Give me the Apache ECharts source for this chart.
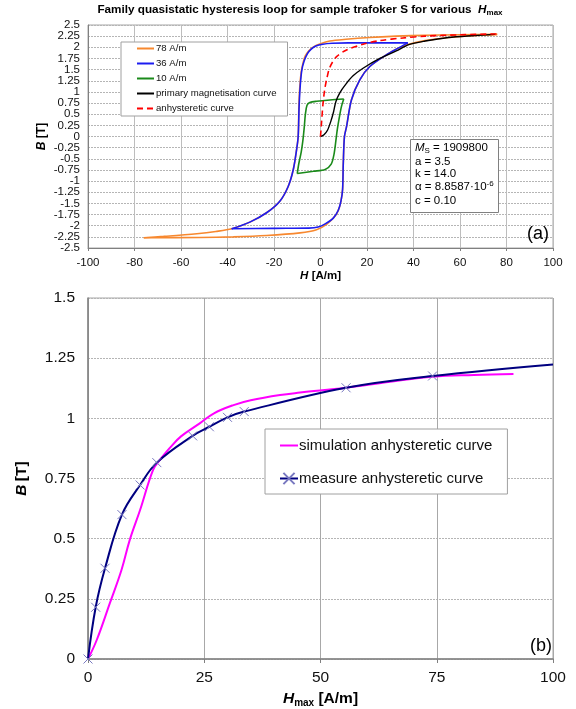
<!DOCTYPE html>
<html><head><meta charset="utf-8">
<script src="https://cdn.jsdelivr.net/npm/echarts@6/dist/echarts.min.js"></script>
<style>html,body{margin:0;padding:0;background:#fff}#c{width:576px;height:709px}</style>
</head><body><div id="c"></div>
<script>
const FONT = '"Liberation Sans", Arial, sans-serif';

// ---------- panel (a): hysteresis loops, [H (A/m), B (T)] ----------
const loop78Desc = [[76,2.29],[60,2.28],[45,2.27],[32.5,2.25],[21,2.22],[11,2.18],[4,2.14],[0,2.08],[-3,2.01],[-5,1.92],[-6.6,1.80],[-7.5,1.65],[-8.3,1.45],[-8.9,1.12],[-9.3,0.67],[-9.6,0],[-10.3,-0.30],[-11.7,-0.74],[-13.9,-1.12],[-17.5,-1.45],[-23.2,-1.71],[-30.4,-1.92],[-38.2,-2.07],[-45,-2.13],[-53.2,-2.18],[-67.5,-2.24],[-76,-2.27]];
const loop78Asc = [[-76,-2.27],[-52,-2.265],[-37.5,-2.25],[-23.2,-2.22],[-8.8,-2.16],[-1.7,-2.09],[2.6,-1.97],[6.2,-1.79],[7.8,-1.64],[8.8,-1.45],[9.5,-1.19],[9.8,-0.6],[10.3,0],[11.2,0.22],[13.3,0.82],[16.9,1.27],[21.2,1.57],[28.3,1.83],[33,1.97],[38,2.07],[45,2.15],[55,2.22],[65,2.26],[76,2.29]];
const loop36Desc = [[37.6,2.10],[25,2.10],[12,2.10],[5,2.09],[1,2.07],[-2,2.03],[-4,1.96],[-5.6,1.86],[-7,1.70],[-8,1.50],[-8.7,1.15],[-9.2,0.67],[-9.6,0],[-10.3,-0.30],[-11.7,-0.74],[-13.9,-1.12],[-17.5,-1.45],[-23.2,-1.71],[-30.4,-1.92],[-38.2,-2.07]];
const loop36Asc = [[-38.2,-2.07],[-20,-2.06],[-5,-2.055],[-1,-2.03],[2,-1.96],[5.5,-1.83],[7.6,-1.66],[8.8,-1.45],[9.5,-1.19],[9.8,-0.6],[10.3,0],[11.2,0.22],[13.3,0.82],[16.9,1.27],[21.2,1.57],[28.3,1.83],[33,1.97],[37.6,2.10]];
const loop10Desc = [[10,0.84],[4,0.82],[-1.7,0.79],[-4.6,0.76],[-5.8,0.70],[-6.5,0.5],[-7,0.2],[-7.6,-0.1],[-8.3,-0.35],[-9.3,-0.6],[-10,-0.83]];
const loop10Asc = [[-10,-0.83],[-3,-0.78],[2,-0.74],[4.6,-0.62],[5.8,-0.4],[6.6,-0.1],[7.2,0.15],[8,0.4],[9,0.67],[10,0.84]];
const primaryCurve = [[0,0],[1.5,0.04],[3,0.14],[4.5,0.35],[5.6,0.55],[6.6,0.78],[8.3,0.98],[11,1.18],[14,1.36],[18.3,1.53],[25.5,1.75],[32.6,1.92],[38,2.06],[45,2.14],[55,2.22],[65,2.26],[75,2.29]];
const anhystCurve = [[0,0],[0.5,0.35],[1.1,0.75],[1.8,1.05],[2.6,1.27],[4,1.55],[6.9,1.79],[11.2,1.94],[18.3,2.07],[25.5,2.15],[35.5,2.21],[45,2.25],[60,2.28],[76,2.30]];
const namesA = ['78 A/m','36 A/m','10 A/m','primary magnetisation curve','anhysteretic curve'];

// ---------- panel (b): anhysteretic curves ----------
const simH  = [0,1.9,4.7,7.2,9,11.2,14,15.5,17.5,20,24.1,27,31.3,35,41.3,45.6,55.5,65,74.1,83,91.5];
const simB  = [0,0.08,0.232,0.37,0.496,0.619,0.786,0.828,0.875,0.925,0.98,1.02,1.055,1.075,1.097,1.107,1.127,1.152,1.173,1.18,1.184];
const measH = [0,1.65,3.66,7.3,11.2,14.8,22.5,26.1,30.0,33.6,55.5,74.1,100];
const measB = [0,0.215,0.377,0.60,0.723,0.816,0.927,0.965,1.004,1.028,1.127,1.176,1.224];
const namesB = ['simulation anhysteretic curve','measure anhysteretic curve'];

const params = ['M_S = 1909800','a = 3.5','k = 14.0','α = 8.8587·10^-6','c = 0.10'];

const chart = echarts.init(document.getElementById('c'), null, {renderer:'canvas'});

function lineSeries(name, data, color, width, opts) {
  return Object.assign({
    type:'line', name, data, xAxisIndex:0, yAxisIndex:0,
    symbol:'none', smooth:0.3, clip:true, animation:false,
    lineStyle:{color, width}, itemStyle:{color}, emphasis:{disabled:true}
  }, opts || {});
}

const measData = measH.map((h,i)=> i===measH.length-1 ? {value:[h,measB[i]], symbol:'none'} : [h,measB[i]]);
const simData = simH.map((h,i)=>[h,simB[i]]);

const xMark = 'path://M0,0L10,10M10,0L0,10';
// top-panel B labels are split over two co-located axes so that none of them collide
const isHalf = v => Math.abs(Math.round(v*2) - v*2) < 1e-6;

const option = {
  backgroundColor:'#fff',
  animation:false,
  textStyle:{fontFamily:FONT},
  title:{
    text:'{t|Family quasistatic hysteresis loop for sample trafoker S for various  }{ti|H}{ts|max}',
    left:300, top:3, textAlign:'center', padding:0,
    textStyle:{rich:{
      t:{fontFamily:FONT,fontWeight:'bold',fontSize:11.7,color:'#000'},
      ti:{fontFamily:FONT,fontWeight:'bold',fontStyle:'italic',fontSize:11.7,color:'#000'},
      ts:{fontFamily:FONT,fontWeight:'bold',fontSize:8,color:'#000',padding:[6,0,0,0]}
    }}
  },
  grid:[
    {left:88, top:25, width:465, height:223, show:true, borderColor:'#a6a6a6', borderWidth:1, backgroundColor:'transparent', outerBoundsMode:'none', containLabel:false},
    {left:88, top:298, width:465, height:361, show:true, borderColor:'#a6a6a6', borderWidth:1, backgroundColor:'transparent', outerBoundsMode:'none', containLabel:false}
  ],
  legend:[
    {
      data:namesA, orient:'vertical', left:121, top:42,
      itemWidth:17, itemHeight:11, itemGap:4, padding:[1,11,2,15],
      itemStyle:{opacity:0},
      backgroundColor:'#fff', borderColor:'#a0a0a0', borderWidth:1, borderRadius:0,
      textStyle:{fontFamily:FONT,fontSize:9.6,lineHeight:11,color:'#111',padding:[0,0,0,-3]},
      selectedMode:false
    },
    {
      data:[{name:namesB[0], itemStyle:{opacity:0}}, namesB[1]], orient:'vertical', left:265, top:429,
      itemWidth:18, itemHeight:14, itemGap:18, padding:[9,15,8,14],
      backgroundColor:'#fff', borderColor:'#a0a0a0', borderWidth:1, borderRadius:0,
      textStyle:{fontFamily:FONT,fontSize:15,color:'#111',padding:[0,0,0,-4]},
      selectedMode:false
    }
  ],
  xAxis:[
    {
      gridIndex:0, type:'value', min:-100, max:100, interval:20,
      name:'{bi|H} {b|[A/m]}', nameLocation:'middle', nameGap:18,
      nameTextStyle:{rich:{bi:{fontFamily:FONT,fontWeight:'bold',fontStyle:'italic',fontSize:11.5,color:'#000'},b:{fontFamily:FONT,fontWeight:'bold',fontSize:11.5,color:'#000'}}},
      axisLine:{onZero:false, lineStyle:{color:'#808080',width:1}},
      axisTick:{show:true,length:3,lineStyle:{color:'#808080'}},
      axisLabel:{fontFamily:FONT,fontSize:11.5,color:'#111',margin:9},
      splitLine:{show:true,lineStyle:{color:'#bdbdbd',width:1,type:'solid'}}
    },
    {
      gridIndex:1, type:'value', min:0, max:100, interval:25,
      name:'{bi|H}{sub|max}{b| [A/m]}', nameLocation:'middle', nameGap:22,
      nameTextStyle:{rich:{
        bi:{fontFamily:FONT,fontWeight:'bold',fontStyle:'italic',fontSize:15.5,color:'#000'},
        sub:{fontFamily:FONT,fontWeight:'bold',fontSize:10,color:'#000',padding:[8,0,0,0]},
        b:{fontFamily:FONT,fontWeight:'bold',fontSize:15.5,color:'#000'}}},
      axisLine:{onZero:false, lineStyle:{color:'#808080',width:1.5}},
      axisTick:{show:true,length:4,lineStyle:{color:'#808080'}},
      axisLabel:{fontFamily:FONT,fontSize:15.5,color:'#111',margin:11},
      splitLine:{show:true,lineStyle:{color:'#a8a8a8',width:1,type:'solid'}}
    }
  ],
  yAxis:[
    {
      gridIndex:0, type:'value', min:-2.5, max:2.5, interval:0.25, position:'left',
      name:'{bi|B} {b|[T]}', nameLocation:'middle', nameGap:40,
      nameTextStyle:{rich:{bi:{fontFamily:FONT,fontWeight:'bold',fontStyle:'italic',fontSize:12,color:'#000'},b:{fontFamily:FONT,fontWeight:'bold',fontSize:12,color:'#000'}}},
      axisLine:{show:true,onZero:false, lineStyle:{color:'#808080',width:1}},
      axisTick:{show:false},
      axisLabel:{fontFamily:FONT,fontSize:11.5,color:'#111',margin:8,showMinLabel:true,showMaxLabel:true,
        formatter:v=> isHalf(v) ? String(v) : ''},
      splitLine:{show:true,lineStyle:{color:'#b5b5b5',width:1,type:[2,1]}}
    },
    {
      gridIndex:1, type:'value', min:0, max:1.5, interval:0.25,
      name:'{bi|B} {b|[T]}', nameLocation:'middle', nameGap:58,
      nameTextStyle:{rich:{bi:{fontFamily:FONT,fontWeight:'bold',fontStyle:'italic',fontSize:15.5,color:'#000'},b:{fontFamily:FONT,fontWeight:'bold',fontSize:15.5,color:'#000'}}},
      axisLine:{show:true,onZero:false, lineStyle:{color:'#808080',width:1.5}},
      axisTick:{show:false},
      axisLabel:{fontFamily:FONT,fontSize:15.5,color:'#111',margin:13,showMinLabel:true,showMaxLabel:true},
      splitLine:{show:true,lineStyle:{color:'#b5b5b5',width:1,type:[2,1]}}
    },
    {
      gridIndex:0, type:'value', min:-2.5, max:2.5, interval:0.25, position:'left', offset:0,
      axisLine:{show:false,onZero:false}, axisTick:{show:false}, splitLine:{show:false},
      axisLabel:{fontFamily:FONT,fontSize:11.5,color:'#111',margin:8,showMinLabel:false,showMaxLabel:false,
        formatter:v=> isHalf(v) ? '' : String(v)}
    }
  ],
  series:[
    lineSeries(namesA[0], loop78Desc, '#f7882f', 1.6),
    lineSeries(namesA[0], loop78Asc, '#f7882f', 1.6),
    lineSeries(namesA[1], loop36Desc, '#1c1cf0', 1.6),
    lineSeries(namesA[1], loop36Asc, '#1c1cf0', 1.6),
    lineSeries(namesA[2], loop10Desc, '#1a8a1a', 1.6),
    lineSeries(namesA[2], loop10Asc, '#1a8a1a', 1.6),
    lineSeries(namesA[3], primaryCurve, '#000000', 1.4),
    lineSeries(namesA[4], anhystCurve, '#ff0000', 1.6, {lineStyle:{color:'#ff0000',width:1.6,type:[6,4]}}),
    lineSeries(namesB[0], simData, '#ff00ff', 2, {xAxisIndex:1,yAxisIndex:1,smooth:0.4}),
    lineSeries(namesB[1], measData, '#000080', 2, {
      xAxisIndex:1, yAxisIndex:1, smooth:0.4,
      symbol:xMark, symbolSize:9, showSymbol:true,
      itemStyle:{color:'#7878c0',borderColor:'#7878c0',borderWidth:1}
    })
  ],
  graphic:[
    {type:'rect', left:410, top:139, shape:{width:88,height:73}, style:{fill:'#fff',stroke:'#808080',lineWidth:1}, z:100},
    {type:'text', left:415, top:142, z:101, style:{
      text:'{i|M}{s|S}{n| = 1909800}', rich:{
        i:{fontFamily:FONT,fontStyle:'italic',fontSize:11.5,fill:'#000'},
        s:{fontFamily:FONT,fontSize:8,fill:'#000',padding:[5,0,0,0]},
        n:{fontFamily:FONT,fontSize:11.5,fill:'#000'}}}},
    {type:'text', left:415, top:156, z:101, style:{text:params[1],font:'11.5px '+FONT,fill:'#000'}},
    {type:'text', left:415, top:168, z:101, style:{text:params[2],font:'11.5px '+FONT,fill:'#000'}},
    {type:'text', left:415, top:180, z:101, style:{
      text:'{n|α = 8.8587·10}{p|-6}', rich:{
        n:{fontFamily:FONT,fontSize:11.5,fill:'#000'},
        p:{fontFamily:FONT,fontSize:8,fill:'#000',padding:[0,0,6,0]}}}},
    {type:'text', left:415, top:195, z:101, style:{text:params[4],font:'11.5px '+FONT,fill:'#000'}},
    {type:'text', right:27, top:225, z:101, style:{text:'(a)',font:'18px '+FONT,fill:'#000'}},
    {type:'text', right:24, top:637, z:101, style:{text:'(b)',font:'18px '+FONT,fill:'#000'}}
  ]
};
chart.setOption(option);
</script></body></html>
